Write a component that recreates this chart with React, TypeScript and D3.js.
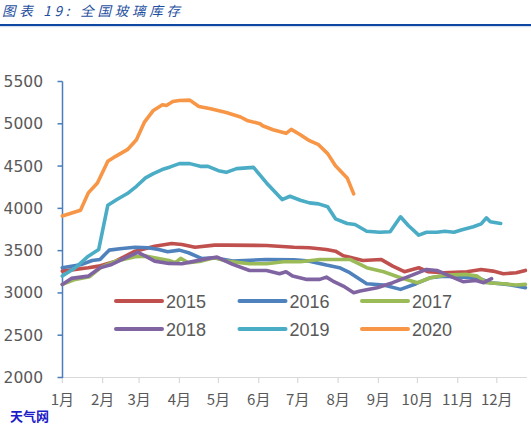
import React from "react";
import * as d3 from "d3";

const monthLabels = ["1月","2月","3月","4月","5月","6月","7月","8月","9月","10月","11月","12月"];
const monthStartDays = [0,31,59,90,120,151,181,212,243,273,304,334];
const yTicks = [2000,2500,3000,3500,4000,4500,5000,5500];

// [day of year, inventory (万重箱)]
const s2015: [number, number][] = [[0,3258],[20,3298],[28,3317],[41,3376],[56,3494],[71,3553],[84,3585],[92,3573],[102,3541],[117,3565],[126,3565],[157,3561],[178,3541],[190,3534],[203,3514],[210,3494],[216,3440],[221,3423],[231,3384],[245,3396],[254,3317],[263,3251],[274,3298],[281,3251],[293,3239],[311,3251],[322,3278],[331,3258],[339,3227],[349,3239],[356,3266]];
const s2016: [number, number][] = [[0,3298],[15,3337],[23,3384],[29,3396],[36,3506],[46,3526],[56,3541],[66,3534],[74,3514],[81,3487],[90,3506],[97,3475],[107,3408],[117,3416],[131,3376],[157,3396],[178,3392],[190,3376],[203,3329],[213,3298],[221,3239],[234,3109],[247,3093],[260,3042],[272,3109],[283,3180],[293,3199],[308,3187],[319,3180],[329,3121],[342,3101],[356,3062]];
const s2017: [number, number][] = [[0,3101],[10,3160],[21,3192],[30,3305],[41,3376],[56,3428],[64,3435],[71,3416],[82,3384],[87,3357],[91,3408],[97,3357],[107,3376],[117,3416],[126,3376],[144,3345],[157,3345],[170,3369],[183,3369],[198,3396],[213,3396],[221,3396],[229,3337],[234,3298],[247,3251],[260,3180],[273,3121],[283,3180],[295,3211],[311,3219],[319,3199],[326,3121],[339,3109],[349,3093],[356,3101]];
const s2018: [number, number][] = [[0,3101],[7,3172],[20,3199],[29,3298],[38,3337],[46,3396],[58,3480],[64,3435],[71,3376],[82,3349],[92,3345],[102,3376],[112,3408],[119,3423],[131,3337],[144,3266],[157,3266],[167,3227],[172,3251],[177,3199],[188,3160],[198,3160],[203,3187],[208,3140],[216,3081],[224,3003],[229,3022],[242,3062],[254,3121],[267,3199],[280,3278],[288,3266],[298,3199],[308,3133],[318,3148],[324,3121],[330,3168]];
const s2019: [number, number][] = [[0,3199],[10,3298],[20,3435],[28,3514],[35,4037],[42,4104],[50,4175],[57,4261],[64,4360],[70,4411],[78,4466],[83,4490],[90,4529],[98,4529],[106,4497],[112,4497],[120,4446],[126,4426],[134,4470],[147,4485],[157,4301],[169,4104],[175,4143],[183,4096],[190,4065],[197,4053],[204,4018],[210,3876],[219,3821],[225,3809],[234,3730],[244,3718],[252,3723],[260,3900],[266,3797],[274,3683],[280,3718],[288,3718],[294,3730],[301,3718],[308,3750],[316,3782],[322,3817],[326,3888],[329,3841],[337,3821]];
const s2020: [number, number][] = [[0,3910],[14,3978],[20,4183],[27,4300],[35,4556],[41,4615],[50,4694],[57,4812],[63,5016],[70,5158],[77,5225],[80,5217],[85,5264],[90,5276],[98,5280],[105,5205],[114,5178],[126,5134],[137,5080],[142,5040],[152,5000],[154,4977],[162,4930],[172,4887],[176,4934],[183,4871],[190,4800],[197,4753],[204,4647],[210,4505],[219,4360],[224,4171]];

const seriesNames = ["2015","2016","2017","2018","2019","2020"];
const seriesData = [s2015, s2016, s2017, s2018, s2019, s2020];
const seriesColors = ["#c0504d","#4f81bd","#9bbb59","#8064a2","#4bacc6","#f79646"];

export default function App() {
  const W = 531, H = 437;
  const x = d3.scaleLinear().domain([0, 357]).range([62.3, 526.7]);
  const y = d3.scaleLinear().domain([2000, 5500]).range([377.5, 81.5]);
  const line = d3.line<[number, number]>().x(d => x(d[0])).y(d => y(d[1]));
  const tickFont = "'DejaVu Sans', sans-serif";
  const legendFont = "'Liberation Sans', Arial, sans-serif";
  const legendPos = [
    [116, 301], [239.5, 301], [362, 301],
    [116, 329], [239.5, 329], [362, 329],
  ];
  return (
    <div style={{ position: "absolute", left: 0, top: 0 }}>
      <svg width={W} height={H} style={{ display: "block", background: "#fff" }}>
        <text x={2} y={16} fontSize={13.5} fontStyle="italic" fill="#1f4fa0"
          fontFamily="'Noto Sans CJK SC', sans-serif" textLength={178} lengthAdjust="spacing">图表 19:  全国玻璃库存</text>
        <rect x={0} y={24} width={W} height={2.2} fill="#0d47a1" />
        <rect x={0} y={26.5} width={W} height={0.8} fill="#dfe6f0" />

        {/* x axis */}
        <line x1={62} x2={527} y1={377.5} y2={377.5} stroke="#d9d9d9" strokeWidth={1.2} />
        {monthStartDays.map((d, i) => (
          <g key={i}>
            <line x1={x(d)} x2={x(d)} y1={377.5} y2={383} stroke="#d9d9d9" strokeWidth={1.2} />
            <text x={x(d)} y={405} textAnchor="middle" fontSize={15} fill="#595959"
              fontFamily="'Noto Sans CJK SC', sans-serif">{monthLabels[i]}</text>
          </g>
        ))}

        {/* y axis */}
        <line x1={62.5} x2={62.5} y1={81.5} y2={378} stroke="#4a7ebb" strokeWidth={1.5} />
        {yTicks.map(t => (
          <g key={t}>
            <line x1={57.5} x2={62.5} y1={y(t)} y2={y(t)} stroke="#4a7ebb" strokeWidth={1.5} />
            <text x={43} y={y(t) + 5.5} textAnchor="end" fontSize={15.5} fill="#595959"
              fontFamily={tickFont}>{t}</text>
          </g>
        ))}

        {/* series */}
        {seriesData.map((s, i) => (
          <path key={seriesNames[i]} d={line(s) || ""} fill="none" stroke={seriesColors[i]}
            strokeWidth={3.6} strokeLinejoin="round" strokeLinecap="round" />
        ))}

        {/* legend */}
        {seriesNames.map((n, i) => (
          <g key={n}>
            <line x1={legendPos[i][0]} x2={legendPos[i][0] + 46} y1={legendPos[i][1]} y2={legendPos[i][1]}
              stroke={seriesColors[i]} strokeWidth={4} strokeLinecap="round" />
            <text x={legendPos[i][0] + 50} y={legendPos[i][1] + 6.5} fontSize={18} fill="#595959"
              fontFamily={legendFont}>{n}</text>
          </g>
        ))}

        <text x={10} y={421} fontSize={13} fontWeight="bold" fill="#1c1cc8"
          fontFamily="'Noto Sans CJK SC', sans-serif">天气网</text>
      </svg>
    </div>
  );
}
